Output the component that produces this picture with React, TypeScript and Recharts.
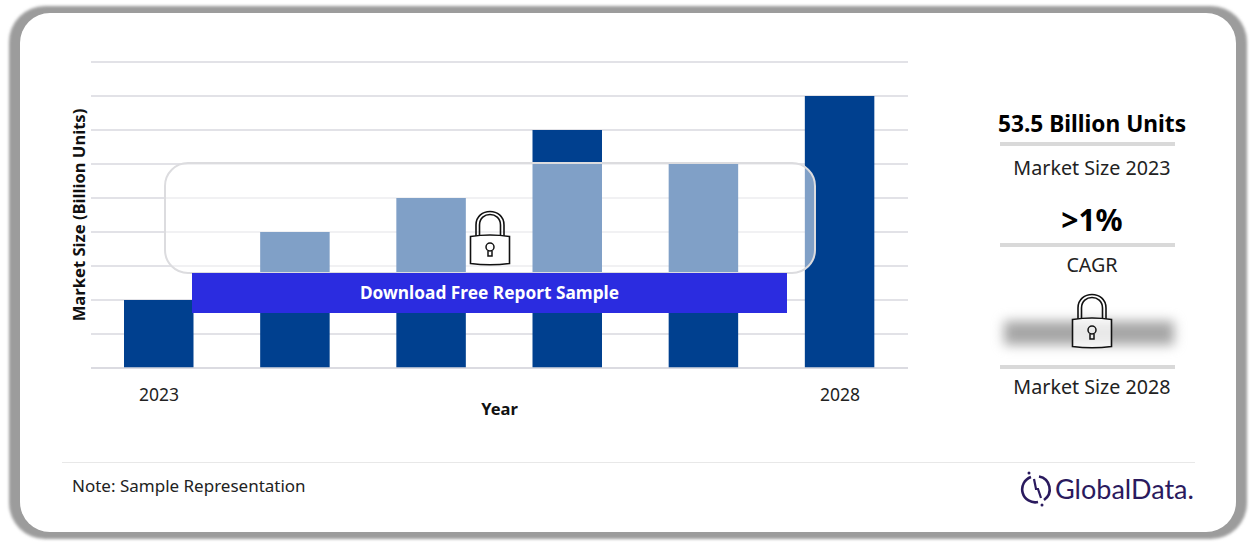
import React from "react";
import { BarChart, Bar, XAxis, YAxis, CartesianGrid } from "recharts";

const years = ["2023", "2024", "2025", "2026", "2027", "2028"];
const marketSize = [2, 4, 5, 7, 6, 8];
const tickLabels = ["2023", "2028"];
const gridValues = [0, 1, 2, 3, 4, 5, 6, 7, 8, 9];
const chartData = years.map((year, i) => ({ year, size: marketSize[i] }));

const kpis = [
  { value: "53.5 Billion Units", valueSize: 22.7, valueY: 124, lineY: 142, label: "Market Size 2023", labelY: 168 },
  { value: ">1%", valueSize: 30, valueY: 220, lineY: 243, label: "CAGR", labelY: 265 },
  { value: "", valueSize: 0, valueY: 0, lineY: 365, label: "Market Size 2028", labelY: 387 },
];

const font = "'Noto Sans', sans-serif";

function Lock({ left, top }: { left: number; top: number }) {
  return (
    <svg width={42} height={56} viewBox="0 0 42 56" style={{ position: "absolute", left, top }}>
      <path d="M7 26 V15 C7 -3 35 -3 35 15 V26" fill="none" stroke="#111" strokeWidth={1.6} />
      <path d="M10.5 26 V15 C10.5 1 31.5 1 31.5 15 V26" fill="none" stroke="#111" strokeWidth={1.6} />
      <path d="M1.5 26.5 Q21 23.5 40.5 26.5 V53.5 Q21 56 1.5 53.5 Z" fill="rgba(255,255,255,0.75)" stroke="#111" strokeWidth={1.6} />
      <circle cx={21} cy={37} r={4} fill="none" stroke="#111" strokeWidth={1.5} />
      <path d="M19 41 V46 H23 V41" fill="none" stroke="#111" strokeWidth={1.5} />
    </svg>
  );
}

function Logo() {
  return (
    <>
      <svg width={34} height={38} viewBox="0 0 34 38" style={{ position: "absolute", left: 1020, top: 470 }}>
        <path d="M11 7 A13 13 0 0 0 18 32" fill="none" stroke="#2a1a5e" strokeWidth={2.6} />
        <path d="M19 6.5 A13 13 0 0 1 24 30" fill="none" stroke="#2a1a5e" strokeWidth={2.6} />
        <path d="M14 9 L16 19 L18 19 L21 28" fill="none" stroke="#2a1a5e" strokeWidth={2.2} />
        <circle cx={9} cy={3} r={1.5} fill="#2a1a5e" />
        <circle cx={22} cy={35} r={1.5} fill="#2a1a5e" />
      </svg>
      <div
        style={{
          position: "absolute",
          left: 1055,
          top: 470,
          fontFamily: "Lato, sans-serif",
          fontSize: 27,
          lineHeight: "38px",
          color: "#2a1a5e",
        }}
      >
        GlobalData.
      </div>
    </>
  );
}

function CenterText({ text, y, size, bold }: { text: string; y: number; size: number; bold?: boolean }) {
  return (
    <div
      style={{
        position: "absolute",
        left: 980,
        width: 224,
        top: y - 20,
        height: 40,
        lineHeight: "40px",
        textAlign: "center",
        fontFamily: font,
        fontSize: size,
        fontWeight: bold ? 700 : 400,
        color: bold ? "#000" : "#222",
      }}
    >
      {text}
    </div>
  );
}

export default function App() {
  return (
    <div style={{ position: "absolute", left: 0, top: 0, width: 1256, height: 545, background: "#fff", overflow: "hidden" }}>
      <div
        style={{
          position: "absolute",
          left: 9,
          top: 6,
          width: 1238,
          height: 533,
          borderRadius: 36,
          background: "#9c9c9c",
          filter: "blur(1.5px)",
        }}
      />
      <div style={{ position: "absolute", left: 20, top: 13, width: 1216, height: 519, borderRadius: 30, background: "#fff" }} />

      <div style={{ position: "absolute", left: 0, top: 0 }}>
        <BarChart
          width={1256}
          height={545}
          data={chartData}
          margin={{ top: 62, right: 348, bottom: 117, left: 61 }}
        >
          <CartesianGrid vertical={false} stroke="#d9d9df" strokeWidth={1.4} />
          <XAxis
            dataKey="year"
            ticks={tickLabels}
            height={60}
            axisLine={{ stroke: "#d9d9df", strokeWidth: 1.4 }}
            tickLine={false}
            tickMargin={15}
            tick={{ fontFamily: font, fontSize: 17.5, fill: "#222" }}
            label={{ value: "Year", position: "insideBottom", offset: 13, style: { fontFamily: font, fontSize: 16.5, fontWeight: 700, fill: "#111" } }}
          />
          <YAxis
            width={30}
            domain={[0, 9]}
            ticks={gridValues}
            interval={0}
            tick={() => <g />}
            axisLine={false}
            tickLine={false}
            label={{ value: "Market Size (Billion Units)", angle: -90, position: "insideLeft", offset: 18, style: { textAnchor: "middle", fontFamily: font, fontSize: 16.6, fontWeight: 700, fill: "#111" } }}
          />
          <Bar dataKey="size" fill="#00408f" barSize={69.5} isAnimationActive={false} />
        </BarChart>
      </div>

      <div
        style={{
          position: "absolute",
          left: 164,
          top: 162,
          width: 648,
          height: 108,
          borderRadius: 24,
          border: "2px solid #dcdcdf",
          background: "rgba(255,255,255,0.5)",
        }}
      />
      <div
        style={{
          position: "absolute",
          left: 192,
          top: 273,
          width: 595,
          height: 40,
          background: "#2b2ce0",
          color: "#fff",
          fontFamily: font,
          fontWeight: 700,
          fontSize: 17.3,
          lineHeight: "40px",
          textAlign: "center",
        }}
      >
        Download Free Report Sample
      </div>
      <Lock left={469} top={210} />

      {kpis.map((k) => (
        <React.Fragment key={k.label}>
          {k.value && <CenterText text={k.value} y={k.valueY} size={k.valueSize} bold />}
          <div style={{ position: "absolute", left: 1000, top: k.lineY, width: 175, height: 4, background: "#d9d9d9" }} />
          <CenterText text={k.label} y={k.labelY} size={19.7} />
        </React.Fragment>
      ))}
      <div
        style={{
          position: "absolute",
          left: 1004,
          top: 321,
          width: 170,
          height: 24,
          background: "#a6a6a6",
          filter: "blur(6px)",
        }}
      />
      <Lock left={1071} top={293} />

      <div style={{ position: "absolute", left: 62, top: 462, width: 1133, height: 1, background: "#e8e8e8" }} />
      <div
        style={{
          position: "absolute",
          left: 72,
          top: 474,
          lineHeight: "24px",
          fontFamily: font,
          fontSize: 17,
          color: "#222",
        }}
      >
        Note: Sample Representation
      </div>
      <Logo />
    </div>
  );
}
